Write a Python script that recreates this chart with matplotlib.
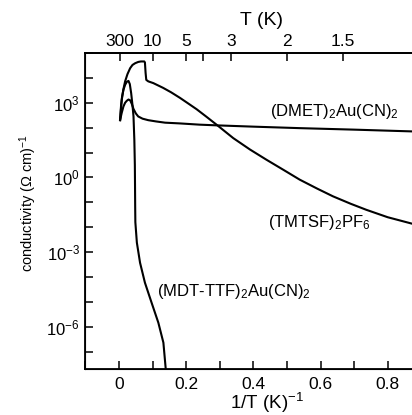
import numpy as np
import matplotlib
matplotlib.use("Agg")
import matplotlib.pyplot as plt
from matplotlib.ticker import FixedLocator, FuncFormatter, NullLocator

plt.rcParams['font.family'] = ['Liberation Sans', 'DejaVu Sans']
plt.rcParams['mathtext.fontset'] = 'custom'
plt.rcParams['mathtext.rm'] = 'Liberation Sans'
plt.rcParams['mathtext.it'] = 'Liberation Sans:italic'

# 1/T (K^-1) and log10 conductivity
tmtsf_x = [0.0033, 0.006, 0.008, 0.013, 0.018, 0.025, 0.033, 0.040, 0.048, 0.057,
           0.065, 0.075, 0.077, 0.079, 0.081, 0.087, 0.102, 0.131, 0.155, 0.181,
           0.205, 0.231, 0.26, 0.294, 0.34, 0.39, 0.439, 0.49, 0.538, 0.59,
           0.637, 0.69, 0.736, 0.80, 0.87]
tmtsf_logs = [2.3, 2.8, 3.12, 3.55, 3.86, 4.15, 4.39, 4.52, 4.59, 4.64,
              4.66, 4.66, 4.62, 4.2, 3.92, 3.86, 3.79, 3.6, 3.42, 3.2,
              2.98, 2.74, 2.44, 2.08, 1.58, 1.12, 0.71, 0.30, -0.09, -0.45,
              -0.76, -1.06, -1.30, -1.60, -1.85]

dmet_x = [0.003, 0.008, 0.013, 0.018, 0.023, 0.028, 0.033, 0.038, 0.043, 0.050,
          0.057, 0.070, 0.087, 0.11, 0.137, 0.181, 0.24, 0.295, 0.40, 0.538,
          0.70, 0.87]
dmet_logs = [2.3, 2.6, 2.85, 3.0, 3.08, 3.13, 3.1, 2.95, 2.75, 2.57,
             2.45, 2.36, 2.3, 2.25, 2.2, 2.17, 2.12, 2.09, 2.04, 1.98,
             1.92, 1.85]

mdt_x = [0.003, 0.006, 0.009, 0.013, 0.018, 0.023, 0.028, 0.032, 0.036, 0.040,
         0.043, 0.0455, 0.047, 0.0475, 0.048, 0.0485, 0.053, 0.0625, 0.077, 0.097,
         0.117, 0.132, 0.139]
mdt_logs = [2.35, 2.9, 3.25, 3.52, 3.72, 3.84, 3.88, 3.75, 3.39, 2.9,
            2.45, 1.5, 0.5, -0.3, -1.2, -1.8, -2.62, -3.43, -4.23, -5.04,
            -5.84, -6.64, -7.7]

x_ticks = [0, 0.2, 0.4, 0.6, 0.8]
x_minor = [-0.1, 0.1, 0.3, 0.5, 0.7]
temps = [300, 10, 5, 4, 3, 2, 1.5]
temp_labels = ['300', '10', '5', '', '3', '2', '1.5']
decades = list(range(-7, 6))

fig = plt.figure(figsize=(4.12, 4.15), dpi=100)
ax = fig.add_axes([0.2075, 0.1108, 0.815, 0.7615])

for xs, ls in [(tmtsf_x, tmtsf_logs), (dmet_x, dmet_logs), (mdt_x, mdt_logs)]:
    ax.plot(xs, 10.0 ** np.array(ls), color='black', lw=1.5, solid_joinstyle='round')

ax.set_yscale('log')
ax.set_xlim(-0.1, 0.9)
ax.set_ylim(10 ** -7.7, 10 ** 5)

ax.yaxis.set_major_locator(FixedLocator([10.0 ** d for d in decades]))
ax.yaxis.set_minor_locator(NullLocator())
def ylab(v, pos):
    d = int(round(np.log10(v)))
    if d % 3 == 0:
        return r'$10^{%d}$' % d
    return ''
ax.yaxis.set_major_formatter(FuncFormatter(ylab))

ax.set_xticks(x_ticks)
ax.set_xticklabels(['0', '0.2', '0.4', '0.6', '0.8'])
ax.set_xticks(x_minor, minor=True)

ax.tick_params(which='both', direction='in', length=6, width=1.1, labelsize=12.5, pad=6)
ax.tick_params(axis='y', labelsize=12, pad=4)
for s in ax.spines.values():
    s.set_linewidth(1.3)

ax.set_xlabel(r'1/T (K)$^{-1}$', fontsize=13.5, va='center')
ax.xaxis.set_label_coords(0.539, -0.108)
ax.set_ylabel(r'conductivity ($\Omega$ cm)$^{-1}$', fontsize=10.5, va='center')
ax.yaxis.set_label_coords(-0.171, 0.525)

# top axis in temperature
top = ax.twiny()
top.set_xlim(ax.get_xlim())
top.set_xticks([1.0 / t for t in temps])
top.set_xticklabels(temp_labels)
top.tick_params(direction='in', length=6, width=1.1, labelsize=12.5, pad=3)
top.spines['top'].set_linewidth(1.3)
top.set_xlabel('T (K)', fontsize=14, va='center')
top.xaxis.set_label_coords(0.524, 1.104)

ax.text(0.449, 10 ** 2.63, r'(DMET)$_2$Au(CN)$_2$', fontsize=12, va='center', ha='left')
ax.text(0.443, 10 ** -1.83, r'(TMTSF)$_2$PF$_6$', fontsize=12, va='center', ha='left')
ax.text(0.113, 10 ** -4.59, r'(MDT-TTF)$_2$Au(CN)$_2$', fontsize=12, va='center', ha='left')

fig.savefig('out.png', dpi=100)
